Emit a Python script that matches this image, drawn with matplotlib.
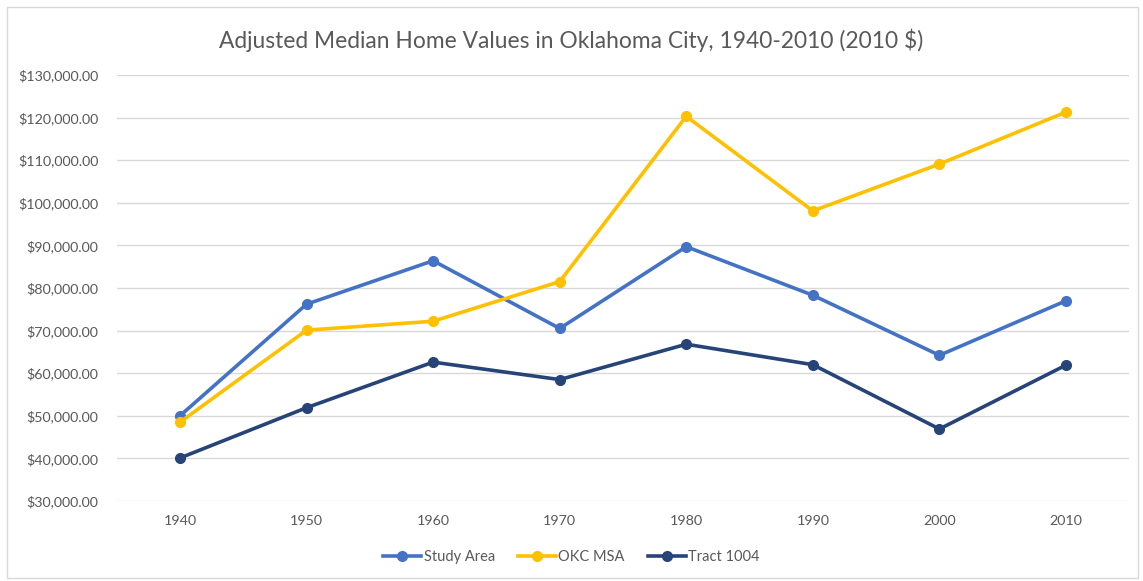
import matplotlib
matplotlib.use("Agg")
from matplotlib import pyplot as plt
from matplotlib.ticker import FuncFormatter
from matplotlib.patches import Rectangle

years = ["1940", "1950", "1960", "1970", "1980", "1990", "2000", "2010"]
study_area = [50000, 76200, 86400, 70500, 89700, 78300, 64200, 77000]
okc_msa = [48500, 70100, 72200, 81500, 120300, 98100, 109100, 121300]
tract_1004 = [40100, 51900, 62600, 58500, 66800, 62000, 46900, 61900]

plt.rcParams['font.family'] = ['Lato', 'DejaVu Sans']

fig = plt.figure(figsize=(11.43, 5.81), dpi=100)
ax = fig.add_axes([0.1021, 0.1377, 0.8859, 0.7332])

x = range(len(years))
ax.plot(x, study_area, color='#4472C4', lw=2.6, marker='o', ms=7, label='Study Area')
ax.plot(x, okc_msa, color='#FFC000', lw=2.6, marker='o', ms=7, label='OKC MSA')
ax.plot(x, tract_1004, color='#264478', lw=2.6, marker='o', ms=7, label='Tract 1004')

ax.set_xlim(-0.5, len(years) - 0.5)
ax.set_ylim(30000, 130000)
ax.set_yticks(range(30000, 130001, 10000))
ax.yaxis.set_major_formatter(FuncFormatter(lambda v, p: "${:,.2f}".format(v)))
ax.set_xticks(list(x))
ax.set_xticklabels(years)
ax.grid(axis='y', color='#D9D9D9', lw=1)
ax.set_axisbelow(True)
for s in ax.spines.values():
    s.set_visible(False)
ax.tick_params(length=0, colors='#595959', labelsize=10.3)
ax.tick_params(axis='y', pad=13)
ax.tick_params(axis='x', pad=10)

fig.text(0.5, 1 - 40 / 581, "Adjusted Median Home Values in Oklahoma City, 1940-2010 (2010 $)",
         ha='center', va='center', fontsize=16.4, color='#595959')

ax.legend(loc='center', bbox_to_anchor=(0.5, 1 - 557 / 581), bbox_transform=fig.transFigure,
          frameon=False, ncol=3, fontsize=10.5, labelcolor='#595959',
          handlelength=2.6, handletextpad=0.15, columnspacing=1.6)

fig.patches.append(Rectangle((7 / 1143, 3 / 581), 1131 / 1143, 571 / 581,
                             transform=fig.transFigure, fill=False,
                             edgecolor='#D9D9D9', lw=1))

fig.savefig("out.png", dpi=100)
